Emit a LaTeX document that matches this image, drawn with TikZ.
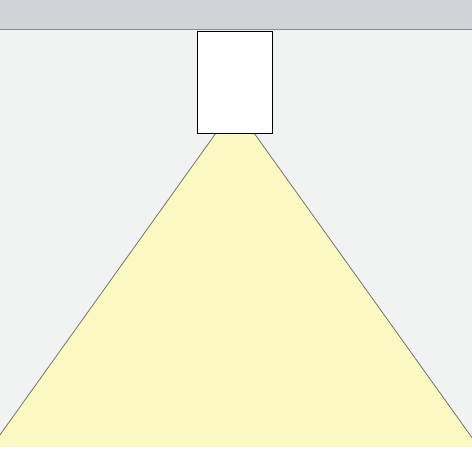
\documentclass[tikz,border=0pt]{standalone}
\usepackage{tikz}
\usepackage{xcolor}

\definecolor{ceilinggray}{HTML}{D1D3D6}
\definecolor{wallgray}{HTML}{F1F2F2}
\definecolor{lightcone}{HTML}{FBF8C4}

\begin{document}
\begin{tikzpicture}[x=1pt, y=-1pt,
    ceiling/.style = {fill=ceilinggray},
    wall/.style = {fill=wallgray},
    beam/.style = {fill=lightcone, draw=black!55, line width=0.8pt},
    lamp/.style = {fill=white, draw=black, line width=1.8pt}]
  \useasboundingbox (0,0) rectangle (472,472);
  \fill[white] (0,0) rectangle (472,472);
  \fill[ceiling] (0,0) rectangle (472,29);
  \fill[wall] (0,29) rectangle (472,446);
  \draw[black!45, line width=0.8pt] (0,29) -- (472,29);
  % light cone, clipped to the wall
  \begin{scope}
    \clip (0,29) rectangle (472,446);
    \draw[beam] (216,133) -- (-18,460) -- (488,460) -- (254,133) -- cycle;
  \end{scope}
  \node[lamp, minimum width=75pt, minimum height=102pt, inner sep=0pt,
    anchor=north west] (lampbox) at (196.5,30.5) {};
\end{tikzpicture}
\end{document}
